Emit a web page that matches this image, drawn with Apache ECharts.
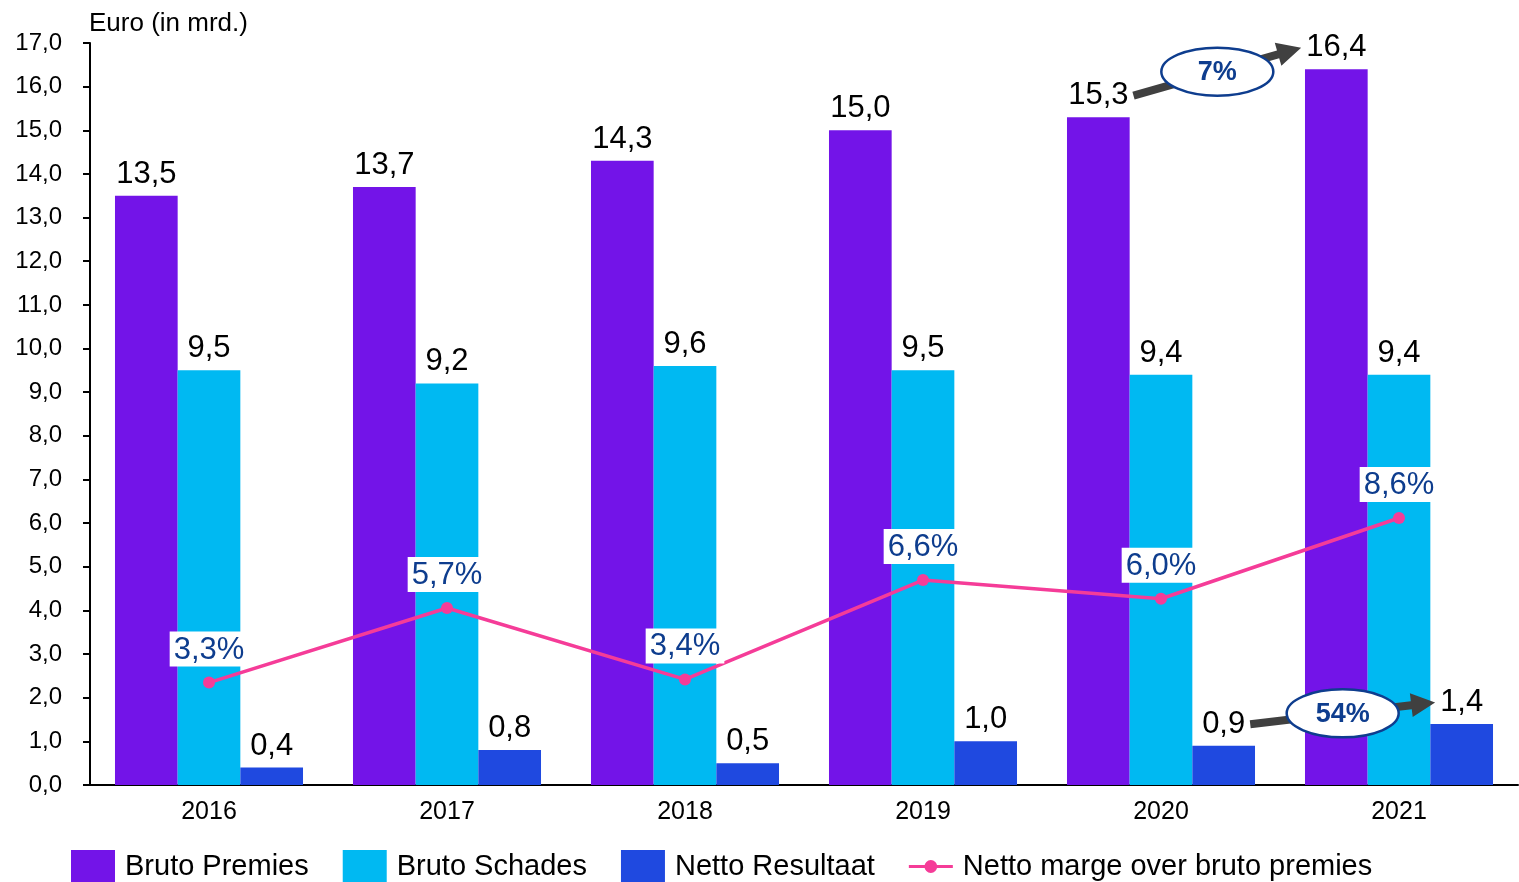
<!DOCTYPE html>
<html><head><meta charset="utf-8">
<script src="https://cdn.jsdelivr.net/npm/echarts@6/dist/echarts.min.js"></script>
<style>html,body{margin:0;padding:0;background:#fff}#c{width:1519px;height:882px}</style>
</head><body><div id="c"></div>
<script>
const years = ['2016','2017','2018','2019','2020','2021'];
const brutoPremies = [13.5,13.7,14.3,15.0,15.3,16.4];
const brutoSchades = [9.5,9.2,9.6,9.5,9.4,9.4];
const nettoResultaat = [0.4,0.8,0.5,1.0,0.9,1.4];
const nettoMarge = [3.3,5.7,3.4,6.6,6.0,8.6];
const seriesNames = ['Bruto Premies','Bruto Schades','Netto Resultaat','Netto marge over bruto premies'];
const axisName = 'Euro (in mrd.)';
const growthNotes = [
  {series:0, from:4, to:5, text:'7%'},
  {series:2, from:4, to:5, text:'54%'}
];

const FONT = '"Liberation Sans", Arial, sans-serif';
const colors = ['#7314E8','#00B9F2','#1F49E0','#F53C98'];
const navy = '#0E3D8E';
const CAT_GAP = 0.21;
const LABEL_DIST = 6;
const LABEL_SIZE = 31;
function fmt(v){ return v.toFixed(1).replace('.', ','); }

const chart = echarts.init(document.getElementById('c'), null, {renderer:'canvas'});
const barLabel = {show:true, position:'top', distance:LABEL_DIST, fontSize:LABEL_SIZE, color:'#000', fontFamily:FONT,
  formatter: p => fmt(p.value)};
const lineIcon = 'path://M0,10.5 L50,10.5 L50,14 L0,14 Z M25,5 A7.25,7.25 0 1,1 24.99,5 Z';
const option = {
  animation:false,
  textStyle:{fontFamily:FONT},
  grid:{left:90, right:1, top:43, bottom:97, containLabel:false},
  legend:{
    left:71, top:850, padding:0, itemWidth:44, itemHeight:33, itemGap:34,
    textStyle:{fontSize:29, color:'#000', fontFamily:FONT, padding:[0,0,0,5]},
    data:[
      {name:seriesNames[0], icon:'rect'},
      {name:seriesNames[1], icon:'rect'},
      {name:seriesNames[2], icon:'rect'},
      {name:seriesNames[3], icon:lineIcon, itemStyle:{color:colors[3], borderWidth:0, opacity:1}}
    ]
  },
  xAxis:{type:'category', data:years,
    axisLine:{lineStyle:{color:'#000', width:2}}, axisTick:{show:false},
    axisLabel:{fontSize:25, color:'#000', margin:15, fontFamily:FONT}},
  yAxis:[
    {type:'value', min:0, max:17, interval:1, name:axisName, nameLocation:'end', nameGap:6,
     nameTextStyle:{fontSize:26, color:'#000', align:'left', fontFamily:FONT, padding:[0,0,0,-1]},
     axisLine:{show:true, lineStyle:{color:'#000', width:2}},
     axisTick:{show:true, inside:false, length:7, lineStyle:{color:'#000', width:2}},
     axisLabel:{fontSize:24, color:'#000', margin:28, fontFamily:FONT, formatter:v=>fmt(v)},
     splitLine:{show:false}},
    {type:'value', min:0, max:23.9, show:false, splitLine:{show:false}}
  ],
  series:[
    {name:seriesNames[0], type:'bar', data:brutoPremies, itemStyle:{color:colors[0]}, barGap:'0%', barCategoryGap:(CAT_GAP*100)+'%', label:barLabel},
    {name:seriesNames[1], type:'bar', data:brutoSchades, itemStyle:{color:colors[1]}, barGap:'0%', barCategoryGap:(CAT_GAP*100)+'%', label:barLabel},
    {name:seriesNames[2], type:'bar', data:nettoResultaat, itemStyle:{color:colors[2]}, barGap:'0%', barCategoryGap:(CAT_GAP*100)+'%', label:barLabel},
    {name:seriesNames[3], type:'line', yAxisIndex:1, data:nettoMarge, z:5,
     itemStyle:{color:colors[3], borderWidth:0}, lineStyle:{color:colors[3], width:3.5},
     symbol:'circle', symbolSize:12,
     label:{show:true, position:'top', distance:10, fontSize:31, color:navy, fontFamily:FONT,
       backgroundColor:'#fff', padding:[3,4,1,4], formatter:p=>fmt(p.value)+'%'}}
  ]
};
chart.setOption(option);

// annotations, positioned from the chart's own scales
const ctx = document.createElement('canvas').getContext('2d');
function textW(t, size){ ctx.font = size+'px '+FONT; return ctx.measureText(t).width; }
const seriesVals = [brutoPremies, brutoSchades, nettoResultaat];
function barTopInfo(s, i){
  const p = chart.convertToPixel({xAxisIndex:0, yAxisIndex:0}, [i, seriesVals[s][i]]);
  const p1 = chart.convertToPixel({xAxisIndex:0, yAxisIndex:0}, [1, 0]);
  const p0 = chart.convertToPixel({xAxisIndex:0, yAxisIndex:0}, [0, 0]);
  const band = p1[0]-p0[0];
  const bw = band*(1-CAT_GAP)/3;
  const cx = p[0] + (s-1)*bw;
  const cy = p[1] - LABEL_DIST - LABEL_SIZE/2;
  const hw = textW(fmt(seriesVals[s][i]), LABEL_SIZE)/2;
  return {cx, cy, hw};
}
function arrowPoly(x1,y1,x2,y2){
  const dx=x2-x1, dy=y2-y1, L=Math.hypot(dx,dy), ux=dx/L, uy=dy/L, nx=-uy, ny=ux;
  const hw=4, hl=24, hh=12;
  const bx=x2-ux*hl, by=y2-uy*hl;
  return [[x1+nx*hw,y1+ny*hw],[bx+nx*hw,by+ny*hw],[bx+nx*hh,by+ny*hh],[x2,y2],[bx-nx*hh,by-ny*hh],[bx-nx*hw,by-ny*hw],[x1-nx*hw,y1-ny*hw]];
}
const graphics = [];
growthNotes.forEach(n=>{
  const a = barTopInfo(n.series, n.from), b = barTopInfo(n.series, n.to);
  const x1 = a.cx + a.hw + 5, y1 = a.cy;
  const x2 = b.cx - b.hw - 5, y2 = b.cy;
  graphics.push({type:'polygon', z:100, shape:{points:arrowPoly(x1,y1,x2,y2)}, style:{fill:'#404040'}});
  const mx=(x1+x2)/2, my=(y1+y2)/2;
  graphics.push({type:'ellipse', z:101, shape:{cx:mx, cy:my, rx:56, ry:24}, style:{fill:'#fff', stroke:navy, lineWidth:2.5}});
  graphics.push({type:'text', z:102, x:mx, y:my+1, style:{text:n.text, font:'bold 27px '+FONT, fill:navy, align:'center', verticalAlign:'middle'}});
});
chart.setOption({graphic:graphics});
</script></body></html>
